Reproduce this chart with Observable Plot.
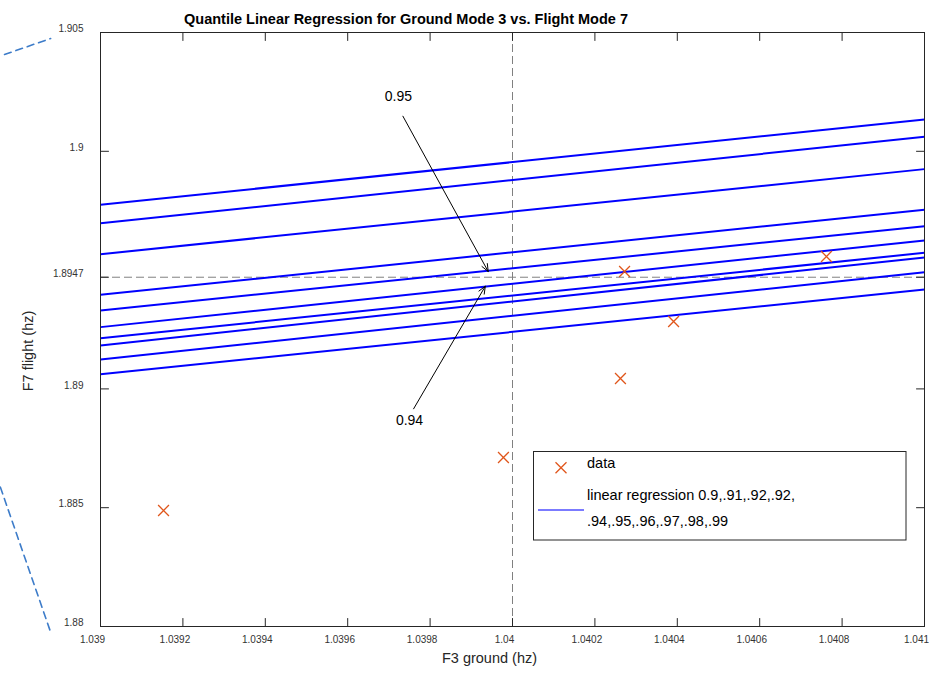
<!DOCTYPE html>
<html><head><meta charset="utf-8">
<script src="https://cdn.jsdelivr.net/npm/d3@7"></script>
<script src="https://cdn.jsdelivr.net/npm/@observablehq/plot@0.6"></script>
<style>body{margin:0;background:#fff;} #chart{position:relative;width:929px;height:674px;}</style>
</head><body><div id="chart"></div>
<script>
// ---- data ----
const xTicks = [1.039, 1.0392, 1.0394, 1.0396, 1.0398, 1.04, 1.0402, 1.0404, 1.0406, 1.0408, 1.041];
const xTickLabels = ["1.039", "1.0392", "1.0394", "1.0396", "1.0398", "1.04", "1.0402", "1.0404", "1.0406", "1.0408", "1.041"];
const yTicks = [1.88, 1.885, 1.89, 1.8947, 1.9, 1.905];
const yTickLabels = ["1.88", "1.885", "1.89", "1.8947", "1.9", "1.905"];

const quantiles = [0.99, 0.98, 0.97, 0.96, 0.95, 0.94, 0.93, 0.92, 0.91, 0.90];
const lineX = [1.039, 1.041];
const lineYStart = [1.89775, 1.89697, 1.89567, 1.89396, 1.89330, 1.89260, 1.89213, 1.89183, 1.89124, 1.89062];
const lineYEnd   = [1.90134, 1.90061, 1.89925, 1.89754, 1.89685, 1.89625, 1.89573, 1.89553, 1.89491, 1.89418];

const dataX = [1.039153, 1.039978, 1.040262, 1.040272, 1.040391, 1.040762];
const dataY = [1.884882, 1.887113, 1.890438, 1.894941, 1.892837, 1.895572];

const refX = 1.04;
const refY = 1.8947;

const annLabels = ["0.95", "0.94"];
const annTextX = [1.039723, 1.039750];
const annTextY = [1.902306, 1.888670];
const arrowX1 = [1.039734, 1.039760];
const arrowY1 = [1.901477, 1.889162];
const arrowX2 = [1.039941, 1.039934];
const arrowY2 = [1.894941, 1.894322];

// stray dashed strokes outside the axes (in data units)
const strayId = ["a", "a", "b", "b"];
const strayX = [1.038767, 1.038879, 1.038757, 1.038879];
const strayY = [1.904074, 1.904747, 1.885863, 1.879760];

const titleText = "Quantile Linear Regression for Ground Mode 3 vs. Flight Mode 7";
const xLabel = "F3 ground (hz)";
const yLabel = "F7 flight (hz)";
const legendLabels = ["data", "linear regression 0.9,.91,.92,.92,", ".94,.95,.96,.97,.98,.99"];

// ---- build ----
const lines = quantiles.map((q, i) => ({q, x1: lineX[0], y1: lineYStart[i], x2: lineX[1], y2: lineYEnd[i]}));
const pts = dataX.map((x, i) => ({x, y: dataY[i]}));
const anns = annLabels.map((t, i) => ({t, x: annTextX[i], y: annTextY[i], x1: arrowX1[i], y1: arrowY1[i], x2: arrowX2[i], y2: arrowY2[i]}));
const stray = strayX.map((x, i) => ({id: strayId[i], x, y: strayY[i]}));
const lab = (ticks, labels) => d => { const i = ticks.findIndex(t => Math.abs(t - d) < 1e-9); return i < 0 ? "" : labels[i]; };
const font = "'Liberation Sans', Arial, Helvetica, sans-serif";
const axisCol = "#262626";
const tickShape = {draw(context, l) { context.moveTo(0, 0); context.lineTo(0, -l); }};
const tickOpts = {shape: tickShape, length: 8, anchor: "start", stroke: axisCol, strokeWidth: 1};

const plot = Plot.plot({
  width: 929, height: 674,
  marginLeft: 100, marginRight: 5, marginTop: 32, marginBottom: 48,
  x: {domain: [1.039, 1.041]},
  y: {domain: [1.88, 1.905]},
  style: {fontFamily: font, background: "#fff", color: axisCol},
  marks: [
    Plot.ruleX([refX], {stroke: "#808080", strokeDasharray: "8,4", strokeWidth: 1}),
    Plot.ruleY([refY], {stroke: "#808080", strokeDasharray: "8,4", strokeWidth: 1}),
    Plot.link(lines, {x1: "x1", y1: "y1", x2: "x2", y2: "y2", stroke: "#0000ff", strokeWidth: 2}),
    Plot.dot(pts, {x: "x", y: "y", symbol: "times", r: 5, stroke: "#E0561B", strokeWidth: 1.3}),
    Plot.arrow(anns, {x1: "x1", y1: "y1", x2: "x2", y2: "y2", stroke: "#000", strokeWidth: 1, headLength: 12, headAngle: 45}),
    Plot.text(anns, {x: "x", y: "y", text: "t", fontSize: 14, fill: "#000"}),
    Plot.line(stray, {x: "x", y: "y", z: "id", stroke: "#3d7cc9", strokeWidth: 1.6, strokeDasharray: "7,5"}),
    Plot.frame({stroke: axisCol, strokeWidth: 1}),
    // inward ticks
    Plot.vector(xTicks, {x: d => d, frameAnchor: "bottom", rotate: 0, ...tickOpts}),
    Plot.vector(xTicks, {x: d => d, frameAnchor: "top", rotate: 180, ...tickOpts}),
    Plot.vector(yTicks, {y: d => d, frameAnchor: "left", rotate: 90, ...tickOpts}),
    Plot.vector(yTicks, {y: d => d, frameAnchor: "right", rotate: -90, ...tickOpts}),
    // tick labels
    Plot.axisX(xTicks, {anchor: "bottom", tickSize: 0, tickPadding: 9.5, dx: -8, tickFormat: lab(xTicks, xTickLabels), label: null, fontSize: 10, fill: "#333"}),
    Plot.axisY(yTicks, {anchor: "left", tickSize: 0, tickPadding: 17, dy: -3.5, tickFormat: lab(yTicks, yTickLabels), label: null, fontSize: 10, fill: "#333"}),
    // titles
    Plot.text([titleText], {frameAnchor: "top", dy: -19, dx: -106.5, fontSize: 14.5, fontWeight: "bold", fill: "#000"}),
    Plot.text([xLabel], {frameAnchor: "bottom", dy: 36, dx: -23, fontSize: 14.5, fill: "#262626"})
  ]
});

const svg = d3.select(plot);
// y axis title
svg.append("text").attr("transform", "translate(28,351) rotate(-90)").attr("text-anchor", "middle")
  .attr("dominant-baseline", "central").attr("font-family", font).attr("font-size", 14.5).attr("fill", "#262626").text(yLabel);

// legend box inside the axes
const g = svg.append("g").attr("font-family", font).attr("text-anchor", "start");
g.append("rect").attr("x", 533.5).attr("y", 451.5).attr("width", 372.5).attr("height", 88.5)
  .attr("fill", "#fff").attr("stroke", axisCol).attr("stroke-width", 1);
g.append("path").attr("d", "M555.5,462.2L566.5,473.2M566.5,462.2L555.5,473.2").attr("stroke", "#E0561B").attr("stroke-width", 1.3).attr("fill", "none");
g.append("line").attr("x1", 538).attr("x2", 584).attr("y1", 510).attr("y2", 510).attr("stroke", "#7b7bff").attr("stroke-width", 2);
g.append("text").attr("x", 587).attr("y", 468).attr("font-size", 14.5).attr("fill", "#000").text(legendLabels[0]);
g.append("text").attr("x", 587).attr("y", 499.5).attr("font-size", 14.5).attr("fill", "#000").text(legendLabels[1]);
g.append("text").attr("x", 587).attr("y", 525.5).attr("font-size", 14.5).attr("fill", "#000").text(legendLabels[2]);

document.getElementById("chart").appendChild(plot);
</script>
</body></html>
